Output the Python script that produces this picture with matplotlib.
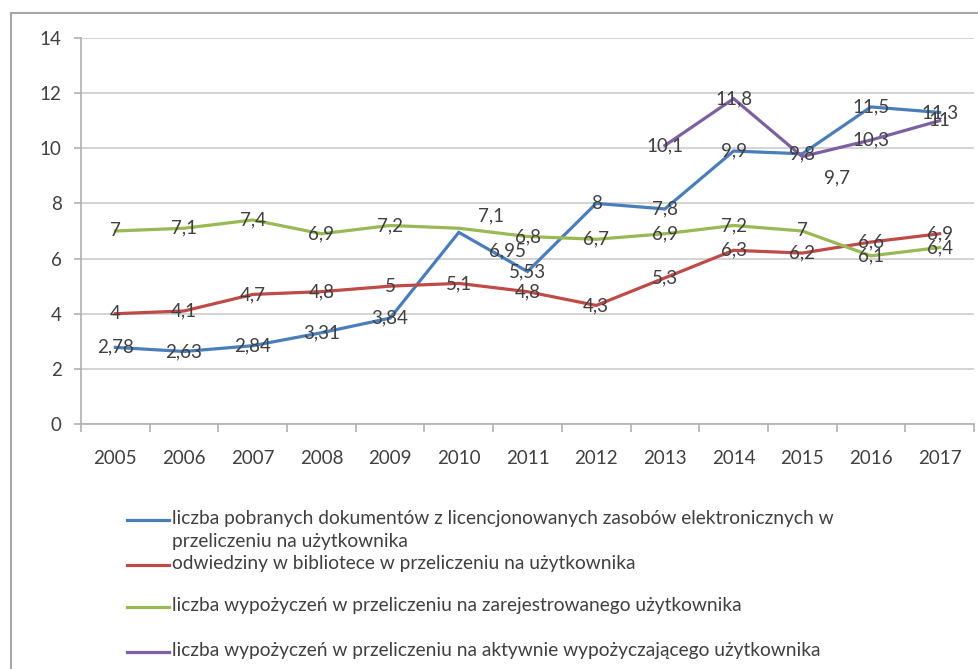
import matplotlib
matplotlib.use("Agg")
import matplotlib.pyplot as plt
from matplotlib.lines import Line2D

# --- data ---
years = ["2005", "2006", "2007", "2008", "2009", "2010", "2011",
         "2012", "2013", "2014", "2015", "2016", "2017"]
downloads = [2.78, 2.63, 2.84, 3.31, 3.84, 6.95, 5.53, 8, 7.8, 9.9, 9.8, 11.5, 11.3]
visits = [4, 4.1, 4.7, 4.8, 5, 5.1, 4.8, 4.3, 5.3, 6.3, 6.2, 6.6, 6.9]
loans_registered = [7, 7.1, 7.4, 6.9, 7.2, 7.1, 6.8, 6.7, 6.9, 7.2, 7, 6.1, 6.4]
loans_active = [None] * 8 + [10.1, 11.8, 9.7, 10.3, 11]

labels = [
    "liczba pobranych dokumentów z licencjonowanych zasobów elektronicznych w\nprzeliczeniu na użytkownika",
    "odwiedziny w bibliotece w przeliczeniu na użytkownika",
    "liczba wypożyczeń w przeliczeniu na zarejestrowanego użytkownika",
    "liczba wypożyczeń w przeliczeniu na aktywnie wypożyczającego użytkownika",
]
colors = ["#4a7ebb", "#be4b48", "#98b954", "#7d60a0"]
series = [downloads, visits, loans_registered, loans_active]

# labels that were dragged away from their point (series index, year index) -> offset in points
label_shift = {(0, 5): (35, -13), (2, 5): (23, 9), (3, 10): (25, -15)}

plt.rcParams['font.family'] = ['Lato', 'DejaVu Sans']

W, H = 979, 669
fig = plt.figure(figsize=(W / 100, H / 100), dpi=100)
ax = fig.add_axes([81 / W, 1 - 424 / H, (974 - 81) / W, (424 - 38) / H])

x = list(range(len(years)))
for i, (vals, col) in enumerate(zip(series, colors)):
    xs = [xi for xi, v in zip(x, vals) if v is not None]
    ys = [v for v in vals if v is not None]
    ax.plot(xs, ys, color=col, lw=2.3, solid_joinstyle='miter', zorder=3)
    for xi, v in zip(xs, ys):
        dx, dy = label_shift.get((i, xi), (0, 0))
        txt = f"{v:g}".replace('.', ',')
        ax.annotate(txt, (xi, v), xytext=(dx, dy), textcoords='offset points',
                    ha='center', va='center', fontsize=13.5, color='#404040', zorder=4)

ax.set_xlim(-0.5, len(years) - 0.5)
ax.set_ylim(0, 14)
ax.set_yticks(range(0, 15, 2))
ax.set_xticks(x)
ax.set_xticklabels(years)
ax.set_xticks([i - 0.5 for i in range(len(years) + 1)], minor=True)
ax.grid(axis='y', color='#cccccc', lw=1.2)
ax.set_axisbelow(True)

for s in ['top', 'right']:
    ax.spines[s].set_visible(False)
for s in ['left', 'bottom']:
    ax.spines[s].set_color('#b0b0b0')
    ax.spines[s].set_linewidth(1.2)

ax.tick_params(axis='x', which='major', length=0, pad=19, labelsize=13.5, labelcolor='#404040')
ax.tick_params(axis='x', which='minor', length=6, width=1.2, color='#b0b0b0', direction='out')
ax.tick_params(axis='y', length=5, width=1.2, color='#b0b0b0', pad=9, labelsize=13.5,
               labelcolor='#404040')

# outer chart border (only left and top edges are visible in the crop)
fig.add_artist(Line2D([11 / W, 11 / W], [0, 1 - 13 / H], color='#a6a6a6', lw=1.5,
                      transform=fig.transFigure))
fig.add_artist(Line2D([11 / W, 1], [1 - 13 / H, 1 - 13 / H], color='#a6a6a6', lw=1.5,
                      transform=fig.transFigure))

# legend, drawn by hand to keep its uneven row spacing
rows = [520, 565, 607, 652]
for lab, col, yp in zip(labels, colors, rows):
    yf = 1 - yp / H
    fig.add_artist(Line2D([127 / W, 169 / W], [yf, yf], color=col, lw=2.3,
                          transform=fig.transFigure))
    fig.text(172 / W, yf + 10 / H, lab, ha='left', va='top', fontsize=13.8,
             color='#404040', linespacing=1.4)

fig.savefig("out.png", dpi=100)
